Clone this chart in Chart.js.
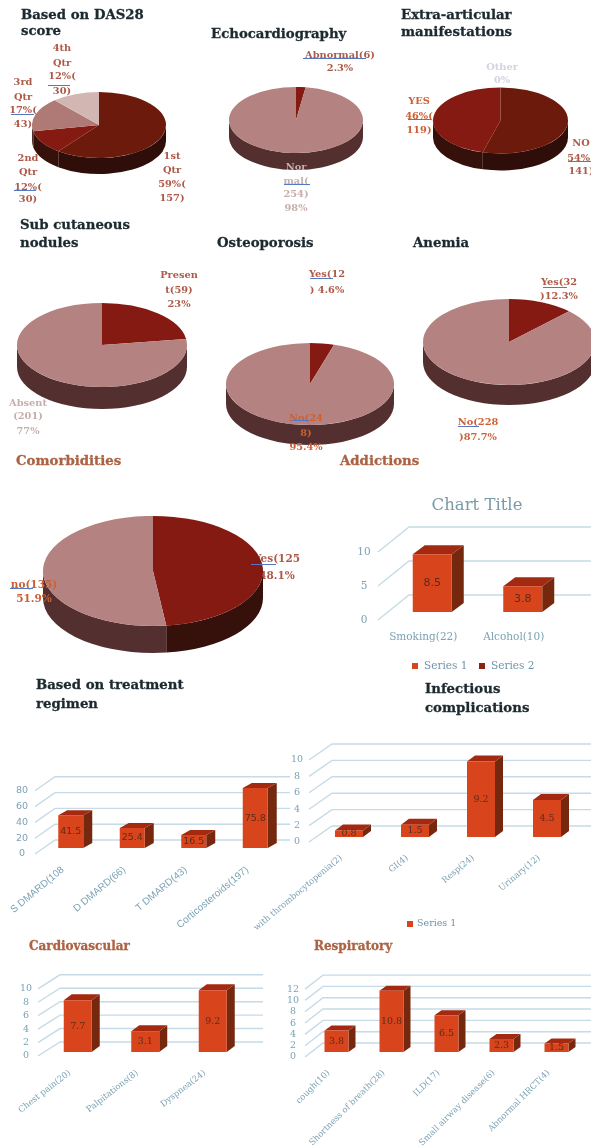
<!DOCTYPE html>
<html>
<head>
<meta charset="utf-8">
<title>Clinical profile charts</title>
<script src="https://cdn.jsdelivr.net/npm/chart.js@4"></script>
<style>
    html, body { margin: 0; padding: 0; background: #fff; }
    #page { position: relative; width: 591px; height: 1148px; overflow: hidden; filter: blur(0.65px); }
    #page canvas { position: absolute; z-index: 2; }
    .txt { position: absolute; white-space: nowrap; font-family: "DejaVu Serif", serif; z-index: 3; }
    .rule { position: absolute; height: 1px; background: #5578c4; z-index: 4; }
</style>
</head>
<body>
<div id="page"></div>
<script>
// Pie data
const dasCategories = ['1st Qtr', '2nd Qtr', '3rd Qtr', '4th Qtr'];
const dasValues = [157, 30, 43, 30];
const echoCategories = ['Abnormal', 'Normal'];
const echoValues = [6, 254];
const extraCategories = ['NO', 'YES', 'Other'];
const extraValues = [141, 119, 0];
const noduleCategories = ['Present', 'Absent'];
const noduleValues = [59, 201];
const osteoCategories = ['Yes', 'No'];
const osteoValues = [12, 248];
const anemiaCategories = ['Yes', 'No'];
const anemiaValues = [32, 228];
const comorbCategories = ['Yes', 'No'];
const comorbValues = [125, 135];

// Bar data
const addictionLabels = ['Smoking(22)', 'Alcohol(10)'];
const addictionValues = [8.5, 3.8];
const treatmentLabels = ['S DMARD(108', 'D DMARD(66)', 'T DMARD(43)', 'Corticosteroids(197)'];
const treatmentValues = [41.5, 25.4, 16.5, 75.8];
const infectionLabels = ['with thrombocytopenia(2)', 'GI(4)', 'Resp(24)', 'Urinary(12)'];
const infectionValues = [0.8, 1.5, 9.2, 4.5];
const cardioLabels = ['Chest pain(20)', 'Palpitations(8)', 'Dyspnea(24)'];
const cardioValues = [7.7, 3.1, 9.2];
const respLabels = ['cough(10)', 'Shortness of breath(28)', 'ILD(17)', 'Small airway disease(6)', 'Abnormal HRCT(4)'];
const respValues = [3.8, 10.8, 6.5, 2.3, 1.5];

// Colours
const DARK = '#6c1a0c', DARK_SIDE = '#2f0d08';
const RED = '#841a12', RED_SIDE = '#36100a';
const PINK = '#b48280', PINK_SIDE = '#53302f';
const LABEL_BROWN = '#ad5a48', LABEL_ORANGE = '#cc5f35', LABEL_PALE = '#c6aeaa';
const TITLE_DARK = '#1c2a30', TITLE_BROWN = '#ab6344';
const AXIS_TEXT = '#7ba2b5', GRID = '#c6dbe7';
const BAR_FRONT = '#d8441c', BAR_SIDE = '#76280f', BAR_TOP = '#a32a10';

const page = document.getElementById('page');

function addText(str, x, y, color, size, opts = {}) {
    const d = document.createElement('div');
    d.className = 'txt';
    d.textContent = str;
    d.style.left = x + 'px';
    d.style.top = y + 'px';
    d.style.color = color;
    d.style.fontSize = size + 'px';
    d.style.fontWeight = opts.weight || 'bold';
    d.style.transform = opts.left ? 'translateY(-50%)' : 'translate(-50%,-50%)';
    if (opts.z) d.style.zIndex = opts.z;
    if (opts.left) d.style.webkitTextStroke = '0.3px ' + color;
    page.appendChild(d);
}

function addLines(lines, cx, ys, color, size, z) {
    lines.forEach((l, i) => addText(l, cx, ys[i], color, size, { z }));
}

function addTitle(lines, x, ys, color = TITLE_DARK, size = 13.3) {
    lines.forEach((l, i) => addText(l, x, ys[i], color, size, { left: true }));
}

function addRule(x1, x2, y) {
    const d = document.createElement('div');
    d.className = 'rule';
    d.style.left = x1 + 'px';
    d.style.width = (x2 - x1) + 'px';
    d.style.top = y + 'px';
    page.appendChild(d);
}

function addCanvas(left, top, w, h) {
    const c = document.createElement('canvas');
    c.width = w;
    c.height = h;
    c.style.left = left + 'px';
    c.style.top = top + 'px';
    c.style.width = w + 'px';
    c.style.height = h + 'px';
    page.appendChild(c);
    return c;
}

// Squashes the pie into an ellipse and draws the wall under it
const pie3dPlugin = {
    id: 'pie3d',
    beforeDatasetsDraw(chart, args, o) {
        const ctx = chart.ctx;
        const arcs = chart.getDatasetMeta(0).data;
        const first = arcs[0];
        const cx = first.x, cy = first.y, rx = first.outerRadius, ry = rx * o.squash;
        ctx.save();
        arcs.forEach((arc, i) => {
            for (const shift of [0, Math.PI * 2]) {
                const a = Math.max(arc.startAngle, shift);
                const b = Math.min(arc.endAngle, shift + Math.PI);
                if (b <= a) continue;
                ctx.beginPath();
                ctx.ellipse(cx, cy, rx, ry, 0, a, b);
                ctx.ellipse(cx, cy + o.depth, rx, ry, 0, b, a, true);
                ctx.closePath();
                ctx.fillStyle = o.sides[i];
                ctx.fill();
            }
        });
        ctx.restore();
        ctx.save();
        ctx.translate(cx, cy);
        ctx.scale(1, o.squash);
        ctx.translate(-cx, -cy);
    },
    afterDatasetsDraw(chart) {
        chart.ctx.restore();
    }
};

function pieChart(cx, cy, rx, ry, depth, categories, values, colors, sides) {
    const size = rx * 2;
    const canvas = addCanvas(cx - rx, cy - rx, size, size + depth * 2);
    return new Chart(canvas, {
        type: 'pie',
        data: {
            labels: categories,
            datasets: [{ data: values, backgroundColor: colors, borderWidth: 0, clip: false }]
        },
        options: {
            responsive: false,
            animation: false,
            layout: { padding: { bottom: depth * 2 } },
            plugins: {
                legend: { display: false },
                tooltip: { enabled: false },
                pie3d: { squash: ry / rx, depth, sides }
            }
        },
        plugins: [pie3dPlugin]
    });
}

// Oblique floor lines, back wall grid, bar sides, value labels
const bar3dPlugin = {
    id: 'bar3d',
    beforeDatasetsDraw(chart, args, o) {
        const ctx = chart.ctx;
        const y = chart.scales.y;
        ctx.save();
        ctx.strokeStyle = GRID;
        ctx.lineWidth = 1.4;
        ctx.fillStyle = AXIS_TEXT;
        ctx.font = o.tickFont;
        ctx.textAlign = 'center';
        ctx.textBaseline = 'middle';
        y.ticks.forEach(t => {
            const py = y.getPixelForValue(t.value);
            ctx.beginPath();
            ctx.moveTo(o.axisX, py + o.tickOff);
            ctx.lineTo(o.axisX + o.dx, py + o.backOff);
            ctx.lineTo(o.gridEnd, py + o.backOff);
            ctx.stroke();
            ctx.fillText(String(t.value), o.axisX - o.tickGap, py + o.tickOff);
        });
        chart.getDatasetMeta(0).data.forEach(bar => {
            const l = bar.x - bar.width / 2, r = bar.x + bar.width / 2;
            const top = bar.y, bottom = bar.base;
            ctx.fillStyle = BAR_SIDE;
            ctx.beginPath();
            ctx.moveTo(r, top);
            ctx.lineTo(r + o.depthX, top - o.depthY);
            ctx.lineTo(r + o.depthX, bottom - o.depthY);
            ctx.lineTo(r, bottom);
            ctx.closePath();
            ctx.fill();
            ctx.fillStyle = BAR_TOP;
            ctx.beginPath();
            ctx.moveTo(l, top);
            ctx.lineTo(l + o.depthX, top - o.depthY);
            ctx.lineTo(r + o.depthX, top - o.depthY);
            ctx.lineTo(r, top);
            ctx.closePath();
            ctx.fill();
        });
        ctx.restore();
    },
    afterDatasetsDraw(chart, args, o) {
        const ctx = chart.ctx;
        ctx.save();
        ctx.fillStyle = '#5e2c1a';
        ctx.font = o.valueFont;
        ctx.textAlign = 'center';
        ctx.textBaseline = 'middle';
        chart.getDatasetMeta(0).data.forEach((bar, i) => {
            ctx.fillText(String(chart.data.datasets[0].data[i]), bar.x, (bar.y + bar.base) / 2);
        });
        (o.legend || []).forEach((pos, i) => {
            const ds = chart.data.datasets[i];
            ctx.fillStyle = ds.backgroundColor;
            ctx.fillRect(pos[0] - 3, pos[1] - 3, 6, 6);
            ctx.fillStyle = '#6f94a8';
            ctx.textAlign = 'left';
            ctx.font = o.legendFont;
            ctx.fillText(ds.label, pos[0] + o.legendGap, pos[1]);
        });
        ctx.restore();
    }
};

function barChart(cfg, labels, values, extraSeries) {
    const [bl, bt, bw, bh] = cfg.box;
    const canvas = addCanvas(bl, bt, bw, bh);
    const datasets = [{ label: 'Series 1', data: values, backgroundColor: BAR_FRONT, clip: false }];
    if (extraSeries) datasets.push({ label: 'Series 2', data: extraSeries, backgroundColor: '#8c2410', clip: false });
    const base = cfg.base - bt;
    return new Chart(canvas, {
        type: 'bar',
        data: { labels, datasets },
        options: {
            responsive: false,
            animation: false,
            grouped: false,
            barPercentage: cfg.barW / cfg.catW,
            categoryPercentage: 1,
            layout: {
                autoPadding: false,
                padding: {
                    left: cfg.catLeft - bl,
                    right: bl + bw - (cfg.catLeft + cfg.catW * labels.length),
                    top: base - cfg.unit * cfg.max,
                    bottom: 0
                }
            },
            scales: {
                x: {
                    grid: { display: false },
                    border: { display: false },
                    // long rotated labels must not push the plot area sideways
                    afterFit(s) { s.height = bh - base; s.paddingLeft = 0; s.paddingRight = 0; },
                    ticks: {
                        autoSkip: false,
                        color: AXIS_TEXT,
                        font: cfg.labelFont,
                        minRotation: cfg.rotation,
                        maxRotation: cfg.rotation,
                        labelOffset: cfg.labelOffset,
                        padding: cfg.labelPad
                    }
                },
                y: { display: false, min: 0, max: cfg.max, ticks: { stepSize: cfg.step, autoSkip: false } }
            },
            plugins: {
                legend: { display: false },
                tooltip: { enabled: false },
                bar3d: {
                    axisX: cfg.axisX - bl,
                    dx: cfg.dx,
                    tickOff: cfg.tickOff,
                    backOff: cfg.backOff,
                    tickGap: cfg.tickGap,
                    gridEnd: cfg.gridEnd - bl,
                    depthX: cfg.depth[0],
                    depthY: cfg.depth[1],
                    tickFont: cfg.tickFont,
                    valueFont: cfg.valueFont,
                    legendFont: cfg.legendFont || '9.5px "DejaVu Serif"',
                    legendGap: cfg.legendGap || 7,
                    legend: (cfg.legend || []).map(p => [p[0] - bl, p[1] - bt])
                }
            }
        },
        plugins: [bar3dPlugin]
    });
}

// Text under the comorbidities pie goes in before the pie is stacked on it
addLines(['Yes(125', '48.1%'], 277, [558, 575], LABEL_BROWN, 10.5, 1);

// Pies
pieChart(99, 125, 67, 33, 16, dasCategories, dasValues, [DARK, RED, '#af7a76', '#d2b6b2'], [DARK_SIDE, RED_SIDE, PINK_SIDE, PINK_SIDE]);
pieChart(295.5, 120, 67, 33, 17, echoCategories, echoValues, [RED, PINK], [RED_SIDE, PINK_SIDE]);
pieChart(500.5, 120, 67.5, 33, 17, extraCategories, extraValues, [DARK, RED, PINK], [DARK_SIDE, RED_SIDE, PINK_SIDE]);
pieChart(102, 345, 85, 42, 22, noduleCategories, noduleValues, [RED, PINK], [RED_SIDE, PINK_SIDE]);
pieChart(309.5, 384, 84, 41, 20, osteoCategories, osteoValues, [RED, PINK], [RED_SIDE, PINK_SIDE]);
pieChart(509, 342, 86, 43, 20, anemiaCategories, anemiaValues, [RED, PINK], [RED_SIDE, PINK_SIDE]);
pieChart(153, 571, 110, 55, 27, comorbCategories, comorbValues, [RED, PINK], [RED_SIDE, PINK_SIDE]);

// Bars
barChart({
    box: [340, 520, 251, 155], base: 612, unit: 6.8, max: 10, step: 5,
    axisX: 378, dx: 31, tickOff: 8, backOff: -17, tickGap: 14, gridEnd: 591,
    catLeft: 387, catW: 90.5, barW: 39, depth: [12, 9],
    rotation: 0, labelOffset: -9, labelPad: 11,
    labelFont: { family: 'DejaVu Serif', size: 10.5 },
    tickFont: '10.5px "DejaVu Serif"', valueFont: '11px "DejaVu Sans"',
    legendFont: '10.5px "DejaVu Serif"', legendGap: 9,
    legend: [[415, 666], [482, 666]]
}, addictionLabels, addictionValues, []);

barChart({
    box: [0, 770, 290, 165], base: 848, unit: 0.79, max: 80, step: 20,
    axisX: 35, dx: 20, tickOff: 6, backOff: -8, tickGap: 13, gridEnd: 290,
    catLeft: 40, catW: 61.5, barW: 25, depth: [9, 5],
    rotation: 40, labelOffset: -8, labelPad: 8,
    labelFont: { family: 'Liberation Sans', size: 10 },
    tickFont: '9.5px "DejaVu Sans"', valueFont: '9.5px "DejaVu Sans"'
}, treatmentLabels, treatmentValues);

barChart({
    box: [240, 740, 351, 194], base: 837, unit: 8.2, max: 10, step: 2,
    axisX: 309, dx: 23, tickOff: 5, backOff: -11, tickGap: 12, gridEnd: 591,
    catLeft: 316, catW: 66, barW: 28, depth: [8, 6],
    rotation: 40, labelOffset: -8, labelPad: 8,
    labelFont: { family: 'DejaVu Serif', size: 8.5 },
    tickFont: '9.5px "DejaVu Serif"', valueFont: '9.5px "DejaVu Serif"',
    legend: [[410, 924]]
}, infectionLabels, infectionValues);

barChart({
    box: [0, 970, 280, 150], base: 1052, unit: 6.72, max: 10, step: 2,
    axisX: 38, dx: 22, tickOff: 4, backOff: -10, tickGap: 12, gridEnd: 263,
    catLeft: 44, catW: 67.5, barW: 28, depth: [8, 6],
    rotation: 38, labelOffset: -8, labelPad: 8,
    labelFont: { family: 'DejaVu Serif', size: 8.5 },
    tickFont: '9.5px "DejaVu Serif"', valueFont: '9.5px "DejaVu Serif"'
}, cardioLabels, cardioValues);

barChart({
    box: [280, 970, 311, 178], base: 1052, unit: 5.66, max: 12, step: 2,
    axisX: 305, dx: 18, tickOff: 5, backOff: -9, tickGap: 12, gridEnd: 591,
    catLeft: 309, catW: 55, barW: 24, depth: [7, 5],
    rotation: 45, labelOffset: -8, labelPad: 8,
    labelFont: { family: 'DejaVu Serif', size: 8.5 },
    tickFont: '9.5px "DejaVu Serif"', valueFont: '9.5px "DejaVu Serif"'
}, respLabels, respValues);

// Titles
addTitle(['Based on DAS28', 'score'], 21, [14, 30]);
addTitle(['Echocardiography'], 211, [33]);
addTitle(['Extra-articular', 'manifestations'], 401, [14, 31]);
addTitle(['Sub cutaneous', 'nodules'], 20, [224, 242]);
addTitle(['Osteoporosis'], 217, [242]);
addTitle(['Anemia'], 413, [242]);
addTitle(['Comorbidities'], 16, [460], TITLE_BROWN);
addTitle(['Addictions'], 340, [460], TITLE_BROWN);
addTitle(['Based on treatment', 'regimen'], 36, [684, 703]);
addTitle(['Infectious', 'complications'], 425, [688, 707]);
addTitle(['Cardiovascular'], 29, [946], TITLE_BROWN, 12);
addTitle(['Respiratory'], 314, [946], TITLE_BROWN, 12);
addText('Chart Title', 477, 504, '#7b99a8', 16.5, { weight: 'normal' });

// Pie labels
const S = 9.8;
addLines(['4th', 'Qtr', '12%(', '30)'], 62, [47, 62, 75, 90], LABEL_BROWN, S);
addLines(['3rd', 'Qtr', '17%(', '43)'], 23, [81, 96, 109, 123], LABEL_BROWN, S);
addLines(['2nd', 'Qtr', '12%(', '30)'], 28, [157, 171, 186, 198], LABEL_BROWN, S);
addLines(['1st', 'Qtr', '59%(', '157)'], 172, [155, 169, 183, 197], LABEL_BROWN, S);
addLines(['Abnormal(6)', '2.3%'], 340, [54, 67], LABEL_BROWN, S);
addLines(['Nor', 'mal(', '254)', '98%'], 296, [166, 180, 193, 207], LABEL_PALE, S);
addLines(['Other', '0%'], 502, [66, 79], '#d2d3de', S);
addLines(['YES', '46%(', '119)'], 419, [100, 115, 129], LABEL_ORANGE, S);
addLines(['NO', '54%(', '141)'], 581, [142, 157, 170], LABEL_BROWN, S);
addLines(['Presen', 't(59)', '23%'], 179, [274, 289, 303], LABEL_BROWN, S);
addLines(['Absent', '(201)', '77%'], 28, [402, 415, 430], LABEL_PALE, S);
addLines(['Yes(12', ') 4.6%'], 327, [273, 289], LABEL_BROWN, S);
addLines(['No(24', '8)', '95.4%'], 306, [417, 432, 446], LABEL_ORANGE, S);
addLines(['Yes(32', ')12.3%'], 559, [281, 295], LABEL_BROWN, S);
addLines(['No(228', ')87.7%'], 478, [421, 436], LABEL_ORANGE, S);
addLines(['no(135)', '51.9%'], 34, [584, 598], LABEL_ORANGE, 10.5);

// Blue proofing underlines on the labels
addRule(48, 70, 85);
addRule(11, 34, 114);
addRule(14, 36, 190);
addRule(303, 366, 58);
addRule(284, 310, 184);
addRule(568, 591, 161);
addRule(408, 431, 119);
addRule(310, 333, 278);
addRule(291, 309, 420);
addRule(543, 567, 287);
addRule(458, 479, 426);
addRule(10, 33, 588);
addRule(251, 276, 564);
</script>
</body>
</html>
